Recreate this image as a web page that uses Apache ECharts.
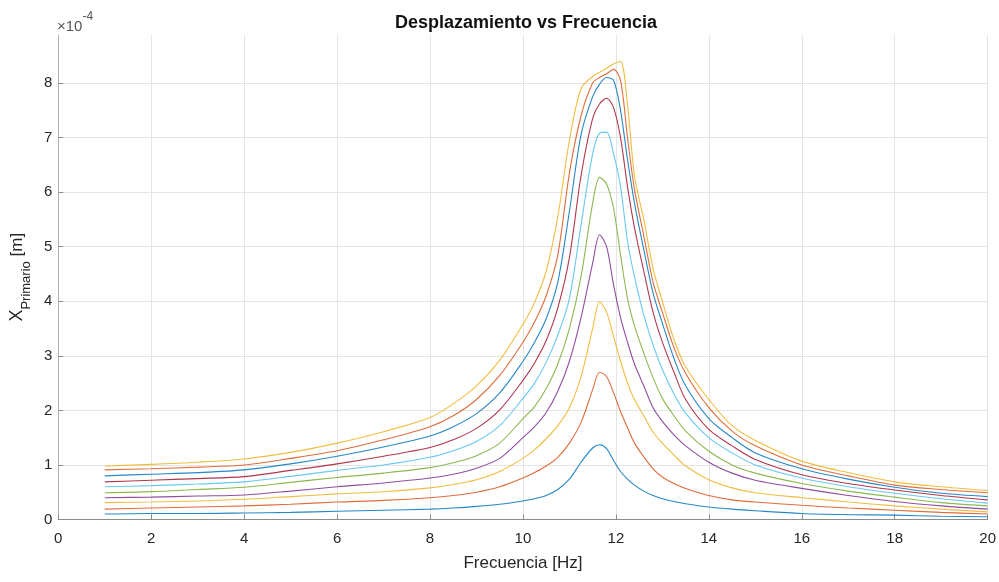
<!DOCTYPE html>
<html>
<head>
<meta charset="utf-8">
<script src="https://cdn.jsdelivr.net/npm/echarts@6/dist/echarts.min.js"></script>
<style>
  html, body { margin: 0; padding: 0; background: #ffffff; }
  #chart { width: 999px; height: 582px; }
</style>
</head>
<body>
<div id="chart"></div>
<script>
// Frequency sweep (Hz) shared by all response curves
const freqHz = [1, 2, 3, 4, 5, 6, 7, 8, 8.5, 9, 9.5, 10, 10.25, 10.5, 10.75, 11, 11.25, 11.5, 11.65, 11.8,
  11.95, 12.1, 12.25, 12.4, 12.6, 12.8, 13, 13.25, 13.5, 14, 14.5, 15, 16, 17, 18, 19, 20];

// Primary-mass displacement amplitude, in units of 1e-4 m (one array per case)
const xp01 = [0.10, 0.11, 0.11, 0.12, 0.13, 0.15, 0.17, 0.19, 0.21, 0.24, 0.28, 0.34, 0.38, 0.44, 0.55, 0.74, 1.05, 1.31, 1.37, 1.30,
  1.08, 0.88, 0.74, 0.63, 0.52, 0.44, 0.38, 0.33, 0.29, 0.23, 0.19, 0.16, 0.11, 0.09, 0.08, 0.06, 0.05];
const xp02 = [0.19, 0.21, 0.23, 0.25, 0.28, 0.32, 0.35, 0.40, 0.44, 0.50, 0.60, 0.76, 0.86, 0.98, 1.14, 1.40, 1.78, 2.38, 2.70, 2.62,
  2.32, 1.98, 1.68, 1.40, 1.15, 0.93, 0.78, 0.66, 0.57, 0.44, 0.36, 0.32, 0.26, 0.21, 0.17, 0.13, 0.10];
const xp03 = [0.31, 0.32, 0.34, 0.37, 0.42, 0.47, 0.51, 0.58, 0.64, 0.73, 0.88, 1.12, 1.28, 1.48, 1.72, 2.05, 2.62, 3.50, 3.99, 3.80,
  3.35, 2.90, 2.50, 2.20, 1.90, 1.60, 1.40, 1.18, 0.98, 0.73, 0.58, 0.49, 0.40, 0.32, 0.25, 0.19, 0.14];
const xp04 = [0.40, 0.41, 0.43, 0.45, 0.52, 0.60, 0.67, 0.76, 0.83, 0.94, 1.12, 1.50, 1.70, 1.96, 2.35, 2.90, 3.70, 4.70, 5.22, 5.00,
  4.30, 3.70, 3.25, 2.85, 2.45, 2.05, 1.80, 1.55, 1.35, 1.05, 0.85, 0.72, 0.57, 0.44, 0.33, 0.25, 0.19];
const xp05 = [0.49, 0.51, 0.55, 0.59, 0.68, 0.77, 0.85, 0.95, 1.04, 1.17, 1.40, 1.85, 2.07, 2.40, 2.85, 3.50, 4.45, 5.80, 6.27, 6.15,
  5.70, 4.85, 4.05, 3.55, 3.05, 2.60, 2.22, 1.90, 1.62, 1.25, 1.00, 0.85, 0.66, 0.52, 0.41, 0.31, 0.25];
const xp06 = [0.60, 0.62, 0.65, 0.69, 0.79, 0.90, 1.00, 1.14, 1.26, 1.43, 1.72, 2.22, 2.50, 2.88, 3.38, 4.05, 5.40, 6.70, 7.08, 7.10,
  6.70, 6.10, 5.10, 4.45, 3.75, 3.20, 2.75, 2.30, 1.95, 1.50, 1.22, 1.00, 0.76, 0.60, 0.48, 0.38, 0.30];
const xp07 = [0.69, 0.72, 0.75, 0.785, 0.90, 1.02, 1.16, 1.32, 1.46, 1.67, 2.01, 2.55, 2.87, 3.28, 3.88, 4.80, 6.30, 7.35, 7.62, 7.72,
  7.55, 7.00, 6.10, 5.35, 4.55, 3.80, 3.25, 2.70, 2.20, 1.65, 1.35, 1.10, 0.82, 0.66, 0.54, 0.44, 0.36];
const xp08 = [0.80, 0.83, 0.86, 0.91, 1.02, 1.16, 1.33, 1.53, 1.70, 1.94, 2.32, 2.90, 3.25, 3.68, 4.35, 5.65, 7.05, 7.75, 7.98, 8.10,
  8.05, 7.50, 6.60, 5.80, 4.95, 4.15, 3.60, 2.95, 2.45, 1.85, 1.50, 1.22, 0.93, 0.74, 0.59, 0.48, 0.42];
const xp09 = [0.91, 0.93, 0.96, 1.00, 1.12, 1.26, 1.46, 1.70, 1.90, 2.20, 2.64, 3.25, 3.62, 4.10, 4.85, 6.35, 7.40, 8.00, 8.10, 8.17,
  8.25, 8.05, 7.00, 6.05, 5.20, 4.35, 3.80, 3.15, 2.68, 2.05, 1.62, 1.35, 1.00, 0.80, 0.63, 0.55, 0.49];
const xp10 = [0.98, 1.01, 1.05, 1.11, 1.23, 1.40, 1.61, 1.87, 2.12, 2.45, 2.92, 3.58, 3.98, 4.55, 5.55, 6.95, 7.90, 8.12, 8.20, 8.27,
  8.35, 8.40, 7.60, 6.30, 5.50, 4.60, 4.00, 3.30, 2.80, 2.20, 1.72, 1.45, 1.07, 0.86, 0.69, 0.60, 0.53];

const cases = [xp01, xp02, xp03, xp04, xp05, xp06, xp07, xp08, xp09, xp10];

// Axis ticks
const xTicks = [0, 2, 4, 6, 8, 10, 12, 14, 16, 18, 20];
const yTicks = [0, 1, 2, 3, 4, 5, 6, 7, 8];

// Classic line colour order, cycling
const lineColors = ['#0072BD', '#D95319', '#EDB120', '#7E2F8E', '#77AC30', '#4DBEEE', '#A2142F'];

const font = '"Liberation Sans", Arial, Helvetica, sans-serif';
const textColor = '#262626';

const chart = echarts.init(document.getElementById('chart'), null, { renderer: 'canvas' });

const series = cases.map((vals, i) => ({
  type: 'line',
  name: 'caso ' + (i + 1),
  data: freqHz.map((f, k) => [f, vals[k]]),
  showSymbol: false,
  smooth: 0.3,
  lineStyle: { width: 1.1, color: lineColors[i % lineColors.length], opacity: 0.85 },
  emphasis: { disabled: true },
  z: 3
}));

chart.setOption({
  animation: false,
  backgroundColor: '#ffffff',
  textStyle: { fontFamily: font },
  title: {
    text: 'Desplazamiento vs Frecuencia',
    left: 521,
    top: 9,
    textAlign: 'center',
    textStyle: { fontFamily: font, fontSize: 18, fontWeight: 'bold', color: '#111111' }
  },
  grid: { left: 53.2, right: 10.4, top: 35, bottom: 62.5, containLabel: false },
  xAxis: {
    type: 'value',
    min: xTicks[0],
    max: xTicks[xTicks.length - 1],
    interval: xTicks[1] - xTicks[0],
    name: 'Frecuencia [Hz]',
    nameLocation: 'middle',
    nameGap: 35,
    nameTextStyle: { fontFamily: font, fontSize: 17, color: textColor },
    axisLine: { show: true, onZero: false, lineStyle: { color: '#8c8c8c', width: 1 } },
    axisTick: { show: true, inside: true, length: 5, lineStyle: { color: '#8c8c8c' } },
    axisLabel: { fontFamily: font, fontSize: 15, color: textColor, margin: 12 },
    splitLine: { show: true, lineStyle: { color: '#e4e4e4', width: 1 } }
  },
  yAxis: {
    type: 'value',
    min: yTicks[0],
    max: 8.88,
    interval: yTicks[1] - yTicks[0],
    name: '{x|X}{s|Primario}{u| [m]}',
    nameLocation: 'middle',
    nameRotate: 90,
    nameGap: 17,
    nameTextStyle: {
      fontFamily: font,
      color: textColor,
      rich: {
        x: { fontFamily: font, fontSize: 18, color: textColor, lineHeight: 32, verticalAlign: 'middle' },
        s: { fontFamily: font, fontSize: 13, color: textColor, lineHeight: 13, verticalAlign: 'bottom' },
        u: { fontFamily: font, fontSize: 17, color: textColor, lineHeight: 32, verticalAlign: 'middle' }
      }
    },
    axisLine: { show: true, lineStyle: { color: '#b0b0b0', width: 1 } },
    axisTick: { show: true, inside: true, length: 5, lineStyle: { color: '#8c8c8c' } },
    axisLabel: {
      fontFamily: font, fontSize: 15, color: textColor, margin: 6, showMaxLabel: false,
      formatter: v => (yTicks.indexOf(v) >= 0 ? String(v) : '')
    },
    splitLine: { show: true, showMaxLine: false, lineStyle: { color: '#e4e4e4', width: 1 } }
  },
  graphic: [{
    type: 'text',
    left: 57,
    top: 11,
    silent: true,
    style: {
      text: '{a|×10}{b|-4}',
      fill: '#555555',
      rich: {
        a: { fontFamily: font, fontSize: 15, fill: '#555555', lineHeight: 23, verticalAlign: 'bottom' },
        b: { fontFamily: font, fontSize: 12, fill: '#555555', lineHeight: 23, verticalAlign: 'top' }
      }
    }
  }],
  series: series
});
</script>
</body>
</html>
